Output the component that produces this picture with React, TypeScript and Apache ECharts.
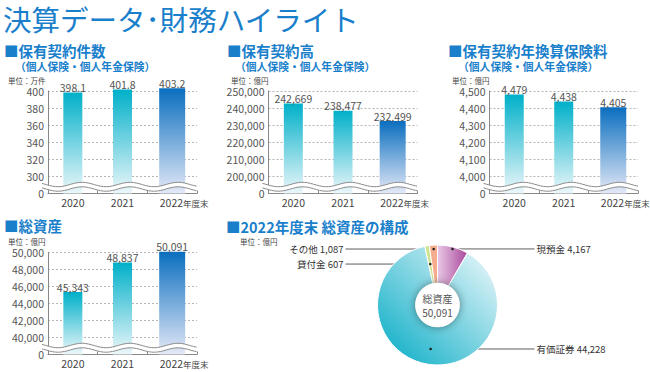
import React, { useEffect, useRef } from 'react';
import * as echarts from 'echarts';

// ---------- data ----------
const YEARS = ['2020', '2021', '2022'];
const POLICIES_IN_FORCE = [398.1, 401.8, 403.2]; // 万件
const POLICY_AMOUNT = [242669, 238477, 232499]; // 億円
const ANNUALIZED_PREMIUM = [4479, 4438, 4405]; // 億円
const TOTAL_ASSETS = [45343, 48837, 50091]; // 億円

const POLICIES_TICKS = [300, 320, 340, 360, 380, 400];
const AMOUNT_TICKS = [200000, 210000, 220000, 230000, 240000, 250000];
const PREMIUM_TICKS = [4000, 4100, 4200, 4300, 4400, 4500];
const ASSETS_TICKS = [40000, 42000, 44000, 46000, 48000, 50000];

const ASSET_NAMES = ['現預金', '有価証券', '貸付金', 'その他'];
const ASSET_VALUES = [4167, 44228, 607, 1087];
const ASSET_TOTAL = 50091;

// ---------- styles ----------
const FONT = '"Noto Sans CJK JP", "Noto Sans", sans-serif';
const BLUE = '#1a7fcb';
const BAR_WIDTHS = [19, 19, 26];
const BAR_COLORS = [
  ['#00b0c9', '#ecf7fa'],
  ['#00b0c9', '#ecf7fa'],
  ['#0a6ebf', '#e4e9f7'],
];
const PIE = { cx: 437.5, cy: 305, r0: 22, r: 60 };
const LEADER_DOT_RADIUS = [0.967, 0.742, 0.693, 0.935];
const LEADER_SIDE = ['right', 'right', 'left', 'left'];

const fmt = (v: number) => v.toLocaleString('en-US');

type Panel = {
  values: number[];
  ticks: number[];
  fmtBar: (v: number) => string;
  grid: { left: number; top: number; width: number; height: number };
};

const PANELS: Panel[] = [
  { values: POLICIES_IN_FORCE, ticks: POLICIES_TICKS, fmtBar: (v) => v.toFixed(1), grid: { left: 48, top: 91, width: 149, height: 102.5 } },
  { values: POLICY_AMOUNT, ticks: AMOUNT_TICKS, fmtBar: fmt, grid: { left: 268.5, top: 91, width: 149, height: 102.5 } },
  { values: ANNUALIZED_PREMIUM, ticks: PREMIUM_TICKS, fmtBar: fmt, grid: { left: 489.5, top: 91, width: 148.5, height: 102.5 } },
  { values: TOTAL_ASSETS, ticks: ASSETS_TICKS, fmtBar: fmt, grid: { left: 48, top: 252.5, width: 149, height: 102 } },
];

function axisRange(ticks: number[]) {
  const step = ticks[1] - ticks[0];
  return { min: ticks[0] - step, max: ticks[ticks.length - 1], step };
}

function sliceMidAngle(i: number) {
  const total = ASSET_VALUES.reduce((a, b) => a + b, 0);
  let before = 0;
  for (let j = 0; j < i; j++) before += ASSET_VALUES[j];
  return ((before + ASSET_VALUES[i] / 2) / total) * Math.PI * 2;
}
function leaderDot(i: number) {
  const a = sliceMidAngle(i);
  const r = LEADER_DOT_RADIUS[i] * PIE.r;
  return [PIE.cx + r * Math.sin(a), PIE.cy - r * Math.cos(a)];
}

function buildOption() {
  const grids: any[] = [];
  const xAxes: any[] = [];
  const yAxes: any[] = [];
  const series: any[] = [];

  PANELS.forEach((p, gi) => {
    const { min, max, step } = axisRange(p.ticks);
    grids.push({ ...p.grid, containLabel: false, outerBoundsMode: 'none' });
    xAxes.push({
      type: 'category',
      gridIndex: gi,
      data: YEARS,
      axisLine: { show: true, lineStyle: { color: '#888', width: 1 } },
      axisTick: { show: true, inside: true, length: 3, lineStyle: { color: '#888' } },
      splitLine: { show: false },
      axisLabel: {
        interval: 0,
        hideOverlap: false,
        margin: 4,
        fontSize: 10.5,
        color: '#444',
        fontFamily: FONT,
        formatter: (v: string) => (v === '2022' ? '{p|2022}{s|年度末}' : v),
        rich: {
          p: { fontSize: 10.5, color: '#444', fontFamily: FONT, padding: [0, 0, 0, 24] },
          s: { fontSize: 8.5, color: '#444', fontFamily: FONT },
        },
      },
    });
    yAxes.push({
      type: 'value',
      gridIndex: gi,
      min,
      max,
      interval: step,
      axisLine: { show: true, lineStyle: { color: '#888', width: 1 } },
      axisTick: { show: false },
      splitLine: { show: true, lineStyle: { color: '#b5b5b5', type: [2, 2], width: 1 } },
      axisLabel: {
        margin: 4,
        fontSize: 10.5,
        color: '#555',
        fontFamily: FONT,
        formatter: (v: number) => (Math.abs(v - min) < 1e-6 ? '0' : fmt(v)),
      },
    });

    // bars
    series.push({
      type: 'custom',
      xAxisIndex: gi,
      yAxisIndex: gi,
      z: 5,
      silent: true,
      data: p.values.map((v, i) => [i, v]),
      encode: { x: 0, y: 1 },
      renderItem: (params: any, api: any) => {
        const i = params.dataIndex;
        const v = api.value(1);
        const top = api.coord([i, v]);
        const base = api.coord([i, min]);
        const w = BAR_WIDTHS[i];
        const c = BAR_COLORS[i];
        return {
          type: 'group',
          children: [
            {
              type: 'rect',
              shape: { x: top[0] - w / 2, y: top[1], width: w, height: base[1] - top[1] },
              style: {
                fill: new echarts.graphic.LinearGradient(0, 0, 0, 1, [
                  { offset: 0, color: c[0] },
                  { offset: 1, color: c[1] },
                ]),
              },
            },
            {
              type: 'text',
              x: top[0],
              y: top[1] + 0.5,
              style: {
                text: p.fmtBar(v),
                align: 'center',
                verticalAlign: 'bottom',
                fill: '#555',
                fontSize: 10.5,
                fontFamily: FONT,
              },
            },
          ],
        };
      },
    });

    // axis break wave
    series.push({
      type: 'custom',
      xAxisIndex: gi,
      yAxisIndex: gi,
      z: 10,
      silent: true,
      data: [[0, min]],
      encode: { x: 0, y: 1 },
      renderItem: (params: any) => {
        const cs = params.coordSys;
        const x0 = cs.x - 6;
        const x1 = cs.x + cs.width;
        const bottom = cs.y + cs.height;
        const yTop = bottom - 9;
        const yBot = bottom - 4.5;
        const topPts: number[][] = [];
        const botPts: number[][] = [];
        for (let x = x0; x <= x1 + 0.01; x += 1.5) {
          const d = 2.2 * Math.cos((2 * Math.PI * (x - cs.x - 34)) / 48);
          topPts.push([x, yTop - d]);
          botPts.push([x, yBot - d]);
        }
        return {
          type: 'group',
          children: [
            { type: 'polygon', shape: { points: topPts.concat(botPts.slice().reverse()) }, style: { fill: '#fff' } },
            { type: 'polyline', shape: { points: topPts }, style: { stroke: '#8a8a8a', lineWidth: 1, fill: 'none' } },
            { type: 'polyline', shape: { points: botPts }, style: { stroke: '#8a8a8a', lineWidth: 1, fill: 'none' } },
          ],
        };
      },
    });
  });

  const sliceFills = [
    new echarts.graphic.LinearGradient(0, 0, 1, 0, [
      { offset: 0, color: '#e8c8e5' },
      { offset: 1, color: '#a9479c' },
    ]),
    new echarts.graphic.LinearGradient(0, 1, 1, 0, [
      { offset: 0, color: '#00aac4' },
      { offset: 1, color: '#f6fbfd' },
    ]),
    '#cfe38e',
    '#f6ad8e',
  ];

  series.push({
    type: 'pie',
    center: [PIE.cx, PIE.cy],
    radius: [PIE.r0, PIE.r],
    startAngle: 90,
    clockwise: true,
    silent: true,
    avoidLabelOverlap: false,
    z: 2,
    data: ASSET_NAMES.map((n, i) => ({ name: n, value: ASSET_VALUES[i], itemStyle: { color: sliceFills[i] } })),
    itemStyle: { borderColor: '#fff', borderWidth: 1 },
    label: {
      show: true,
      formatter: (p: any) => `${p.name} ${fmt(p.value)}`,
      fontSize: 9.5,
      color: '#333',
      fontFamily: FONT,
    },
    labelLine: { show: true, length: 5, length2: 5, lineStyle: { color: '#333', width: 0.8 } },
    labelLayout: (params: any) => {
      const i = params.dataIndex;
      const [dx, dy] = leaderDot(i);
      const right = LEADER_SIDE[i] === 'right';
      const lx = right ? PIE.cx + 99 : PIE.cx - 94;
      const ex = right ? lx - 2 : lx + 2;
      return {
        x: lx,
        y: dy,
        align: right ? 'left' : 'right',
        verticalAlign: 'middle',
        labelLinePoints: [
          [dx, dy],
          [(dx + ex) / 2, dy],
          [ex, dy],
        ],
      };
    },
    emphasis: { disabled: true },
  });

  series.push({
    type: 'pie',
    center: [PIE.cx, PIE.cy],
    radius: [0, PIE.r0],
    silent: true,
    z: 3,
    data: [{ name: '', value: 1 }],
    itemStyle: { color: '#fff', shadowBlur: 8, shadowColor: 'rgba(0,0,0,0.45)' },
    label: {
      show: true,
      position: 'center',
      formatter: `総資産\n${fmt(ASSET_TOTAL)}`,
      color: '#555',
      fontSize: 10,
      lineHeight: 14,
      fontFamily: FONT,
    },
    labelLine: { show: false },
    emphasis: { disabled: true },
  });

  const txt = (text: string, x: number, y: number, fontSize: number, fill: string, fontWeight: any = 'normal') => ({
    type: 'text',
    x,
    y,
    z: 50,
    silent: true,
    style: { text, fill, fontSize, fontWeight, fontFamily: FONT, align: 'left', verticalAlign: 'middle' },
  });

  const dots = ASSET_NAMES.map((_, i) => {
    const [dx, dy] = leaderDot(i);
    return { type: 'circle', z: 60, silent: true, shape: { cx: dx, cy: dy, r: 1.3 }, style: { fill: '#222' } };
  });

  const graphic = [
    txt('決算データ･財務ハイライト', 3, 18, 28.5, BLUE),
    txt('■保有契約件数', 4, 50, 14.5, BLUE, 'bold'),
    txt('（個人保険・個人年金保険）', 15, 65.5, 10.8, BLUE, 'bold'),
    txt('単位：万件', 8, 80, 7.5, '#444'),
    txt('■保有契約高', 227, 50, 14.5, BLUE, 'bold'),
    txt('（個人保険・個人年金保険）', 235, 65.5, 10.8, BLUE, 'bold'),
    txt('単位：億円', 231, 80, 7.5, '#444'),
    txt('■保有契約年換算保険料', 448, 50, 14.5, BLUE, 'bold'),
    txt('（個人保険・個人年金保険）', 458, 65.5, 10.8, BLUE, 'bold'),
    txt('単位：億円', 452, 80, 7.5, '#444'),
    txt('■総資産', 4, 225, 14.5, BLUE, 'bold'),
    txt('単位：億円', 8, 241.7, 7.5, '#444'),
    txt('■2022年度末 総資産の構成', 226, 226.5, 14.5, BLUE, 'bold'),
    txt('単位：億円', 240, 241.7, 7.5, '#444'),
    ...dots,
  ];

  return {
    animation: false,
    backgroundColor: '#fff',
    textStyle: { fontFamily: FONT },
    grid: grids,
    xAxis: xAxes,
    yAxis: yAxes,
    series,
    graphic,
  };
}

export default function App() {
  const ref = useRef<HTMLDivElement>(null);
  useEffect(() => {
    if (!ref.current) return;
    const chart = echarts.init(ref.current, null, { renderer: 'svg' });
    chart.setOption(buildOption() as any);
    return () => chart.dispose();
  }, []);
  return (
    <div
      ref={ref}
      style={{ position: 'absolute', left: 0, top: 0, width: 650, height: 372, background: '#fff' }}
    />
  );
}
